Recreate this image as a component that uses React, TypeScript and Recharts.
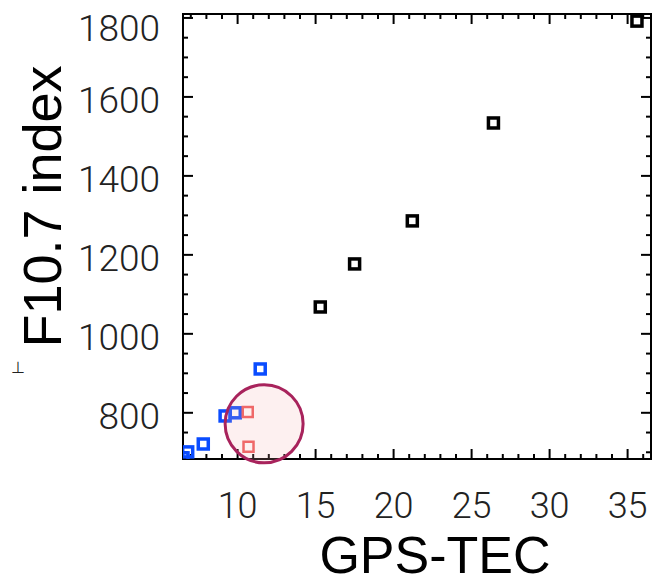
import React from 'react';
import {
  ScatterChart,
  Scatter,
  XAxis,
  YAxis,
  ReferenceDot,
  ReferenceArea,
} from 'recharts';

// ---- data ----
const xTicks = [10, 15, 20, 25, 30, 35];
const yTicks = [800, 1000, 1200, 1400, 1600, 1800];
const xMinorTicks = [7, 8, 9, 11, 12, 13, 14, 16, 17, 18, 19, 21, 22, 23, 24, 26, 27, 28, 29, 31, 32, 33, 34, 36];
const yMinorTicks = [700, 750, 850, 900, 950, 1050, 1100, 1150, 1250, 1300, 1350, 1450, 1500, 1550, 1650, 1700, 1750];

const blackPoints = [
  { x: 15.3, y: 1068 },
  { x: 17.5, y: 1177 },
  { x: 21.2, y: 1286 },
  { x: 26.4, y: 1534 },
  { x: 35.6, y: 1792 },
];
const bluePoints = [
  { x: 6.5, y: 686 },
  { x: 6.8, y: 701 },
  { x: 7.8, y: 721 },
  { x: 9.2, y: 792 },
  { x: 9.85, y: 800 },
  { x: 11.45, y: 911 },
];
const redPoints = [
  { x: 10.65, y: 802 },
  { x: 10.7, y: 714 },
];
const highlight = { x: 11.7, y: 772 };

const X_DOMAIN: [number, number] = [6.5, 36.5];
const Y_DOMAIN: [number, number] = [683, 1810];

const FONT = '"Liberation Sans", Arial, Helvetica, sans-serif';
const TICK_FONT = 'Roboto, "Liberation Sans", Arial, sans-serif';

const MAJOR = 10;
const MINOR = 5;

// tick-mark anchor points on the frame (placed by the chart's own scales)
const bottomMajor = xTicks.map((t) => ({ x: t, y: Y_DOMAIN[0] }));
const bottomMinor = xMinorTicks.map((t) => ({ x: t, y: Y_DOMAIN[0] }));
const topMajor = xTicks.map((t) => ({ x: t, y: Y_DOMAIN[1] }));
const topMinor = xMinorTicks.map((t) => ({ x: t, y: Y_DOMAIN[1] }));
const leftMajor = yTicks.map((t) => ({ x: X_DOMAIN[0], y: t }));
const leftMinor = yMinorTicks.map((t) => ({ x: X_DOMAIN[0], y: t }));
const rightMajor = yTicks.map((t) => ({ x: X_DOMAIN[1], y: t }));
const rightMinor = yMinorTicks.map((t) => ({ x: X_DOMAIN[1], y: t }));

const makeSquare = (color: string, sw: number) => (props: any) => {
  const { cx, cy } = props;
  if (cx == null || cy == null) return <g />;
  return (
    <rect x={cx - 5} y={cy - 5} width={10} height={10} fill="none" stroke={color} strokeWidth={sw} />
  );
};

const makeMark = (dx: number, dy: number) => (props: any) => {
  const { cx, cy } = props;
  if (cx == null || cy == null) return <g />;
  return <line x1={cx} y1={cy} x2={cx + dx} y2={cy + dy} stroke="#000" strokeWidth={2} />;
};

const XTick = (props: any) => {
  const { x, y, payload } = props;
  return (
    <text
      x={x}
      y={y}
      dy="0.71em"
      textAnchor="middle"
      fontFamily={TICK_FONT}
      fontWeight={300}
      fontSize={36}
      fill="#222"
    >
      {payload.value}
    </text>
  );
};

const YTick = (props: any) => {
  const { x, y, payload } = props;
  const shift = payload.value === 1800 ? 10 : 3;
  return (
    <text
      x={x}
      y={y + shift}
      dy="0.355em"
      textAnchor="end"
      fontFamily={TICK_FONT}
      fontWeight={300}
      fontSize={37}
      fill="#222"
    >
      {payload.value}
    </text>
  );
};

const XTitle = (props: any) => {
  const vb = props.viewBox || { x: 183, y: 459, width: 468, height: 123 };
  return (
    <text
      x={vb.x + vb.width / 2 + 18}
      y={vb.y + vb.height - 9}
      textAnchor="middle"
      fontFamily={FONT}
      fontSize={52}
      fill="#000"
    >
      GPS-TEC
    </text>
  );
};

const YTitle = (props: any) => {
  const vb = props.viewBox || { x: 0, y: 14, width: 183, height: 445 };
  const cx = 61;
  const cy = vb.y + vb.height / 2 - 30;
  return (
    <g>
      <text
        x={cx}
        y={cy}
        textAnchor="middle"
        fontFamily={FONT}
        fontSize={54}
        fill="#000"
        transform={`rotate(-90, ${cx}, ${cy})`}
      >
        F10.7 index
      </text>
      <text x={11} y={373} fontFamily={FONT} fontSize={16} fill="#222">
        ⊥
      </text>
    </g>
  );
};

const lineStyle = { stroke: '#000', strokeWidth: 2 };

export default function App() {
  return (
    <div style={{ position: 'absolute', left: 0, top: 0, width: 658, height: 582, background: '#fff' }}>
      <ScatterChart width={658} height={582} margin={{ top: 14, right: 7, bottom: 0, left: 0 }}>
        <XAxis
          type="number"
          dataKey="x"
          domain={X_DOMAIN}
          ticks={xTicks}
          allowDataOverflow
          tickLine={false}
          tickSize={0}
          tickMargin={33}
          height={123}
          axisLine={lineStyle}
          tick={XTick}
          interval={0}
          label={{ content: XTitle }}
        />
        <YAxis
          type="number"
          dataKey="y"
          domain={Y_DOMAIN}
          ticks={yTicks}
          allowDataOverflow
          tickLine={false}
          tickSize={0}
          tickMargin={23}
          width={183}
          axisLine={lineStyle}
          tick={YTick}
          interval={0}
          label={{ content: YTitle }}
        />
        <ReferenceArea
          x1={X_DOMAIN[0]}
          x2={X_DOMAIN[1]}
          y1={Y_DOMAIN[0]}
          y2={Y_DOMAIN[1]}
          fill="none"
          fillOpacity={0}
          stroke="#000"
          strokeWidth={2}
          ifOverflow="visible"
        />
        {/* inward tick marks on all four sides */}
        <Scatter data={bottomMajor} shape={makeMark(0, -MAJOR)} isAnimationActive={false} />
        <Scatter data={bottomMinor} shape={makeMark(0, -MINOR)} isAnimationActive={false} />
        <Scatter data={topMajor} shape={makeMark(0, MAJOR)} isAnimationActive={false} />
        <Scatter data={topMinor} shape={makeMark(0, MINOR)} isAnimationActive={false} />
        <Scatter data={leftMajor} shape={makeMark(MAJOR, 0)} isAnimationActive={false} />
        <Scatter data={leftMinor} shape={makeMark(MINOR, 0)} isAnimationActive={false} />
        <Scatter data={rightMajor} shape={makeMark(-MAJOR, 0)} isAnimationActive={false} />
        <Scatter data={rightMinor} shape={makeMark(-MINOR, 0)} isAnimationActive={false} />
        {/* data */}
        <Scatter data={blackPoints} shape={makeSquare('#000000', 3.5)} isAnimationActive={false} />
        <Scatter data={bluePoints} shape={makeSquare('#0a4cff', 3.5)} isAnimationActive={false} />
        <Scatter data={redPoints} shape={makeSquare('#ee5a5a', 2.5)} isAnimationActive={false} />
        <ReferenceDot
          x={highlight.x}
          y={highlight.y}
          r={39}
          fill="rgba(245, 170, 170, 0.18)"
          stroke="#a8235c"
          strokeWidth={3}
          ifOverflow="visible"
        />
      </ScatterChart>
    </div>
  );
}
